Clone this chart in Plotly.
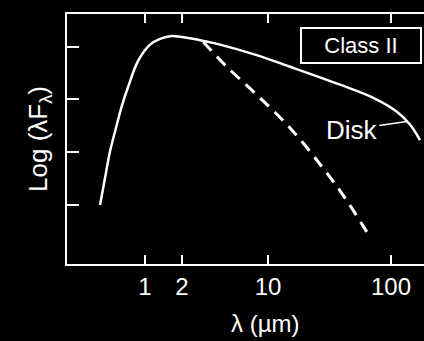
import plotly.graph_objects as go

# Total SED (solid) and stellar photosphere (dashed)
sed_wavelength = [0.431, 0.473, 0.519, 0.578, 0.647, 0.732, 0.883, 1.099, 1.324, 1.597,
                  1.926, 2.321, 2.979, 4.07, 7.84, 15.1, 38.5, 71.8, 111, 143, 172]
sed_logflux = [1.00, 1.51, 2.01, 2.44, 2.87, 3.25, 3.74, 4.04, 4.15, 4.20,
               4.19, 4.16, 4.11, 4.04, 3.85, 3.62, 3.28, 3.03, 2.77, 2.52, 2.23]

star_wavelength = [2.98, 4.62, 8.09, 15.1, 28.0, 42.3, 63.5]
star_logflux = [4.09, 3.62, 3.09, 2.46, 1.70, 1.13, 0.49]

x_tickvals = [1, 2, 10, 100]
x_ticktext = ["1", "2", "10", "100"]
y_tickvals = [1, 2, 3, 4]

FONT = "Liberation Sans, Arial, sans-serif"

fig = go.Figure()
fig.add_trace(go.Scatter(x=sed_wavelength, y=sed_logflux, mode="lines",
                         line=dict(color="white", width=2.5, shape="spline", smoothing=1.0),
                         showlegend=False, hoverinfo="skip"))
fig.add_trace(go.Scatter(x=star_wavelength, y=star_logflux, mode="lines",
                         line=dict(color="white", width=3, dash="12px,8px", shape="spline", smoothing=1.0),
                         showlegend=False, hoverinfo="skip"))

fig.update_layout(
    width=424, height=341,
    margin=dict(l=67, r=0, t=14, b=77),
    paper_bgcolor="black", plot_bgcolor="black",
    font=dict(family=FONT, color="white", size=24),
    xaxis=dict(type="log", range=[-0.634, 2.268],
               tickvals=x_tickvals, ticktext=x_ticktext,
               ticks="inside", ticklen=9, tickwidth=2, tickcolor="white",
               showline=True, linecolor="white", linewidth=2, mirror="ticks",
               showgrid=False, zeroline=False,
               tickfont=dict(size=24, color="white")),
    yaxis=dict(range=[-0.12, 4.62], tickvals=y_tickvals, showticklabels=False,
               ticks="inside", ticklen=12, tickwidth=2, tickcolor="white",
               showline=True, linecolor="white", linewidth=2, mirror=False,
               showgrid=False, zeroline=False,
               title=dict(text="Log (λF<sub>λ</sub>)", font=dict(size=26, color="white"), standoff=10)),
    annotations=[
        dict(text="λ (µm)", xref="paper", yref="paper", x=0.555, y=-0.236,
             xanchor="center", yanchor="middle", showarrow=False,
             font=dict(size=24, color="white", family=FONT)),
        dict(text="Class II", xref="paper", yref="paper", x=0.823, y=0.874,
             xanchor="center", yanchor="middle",
             showarrow=False, width=118, height=33, borderpad=0,
             bordercolor="white", borderwidth=2,
             font=dict(size=22, color="white", family=FONT)),
        dict(text="Disk", xref="x", yref="y", x=2.128, y=2.58,
             showarrow=True, arrowhead=0, arrowwidth=1.5, arrowcolor="white",
             ax=-55, ay=8, font=dict(size=26, color="white", family=FONT)),
    ],
)

fig.write_html("out.html", config={"displayModeBar": False},
               post_script="document.body.style.margin='0';document.body.style.overflow='hidden';")
